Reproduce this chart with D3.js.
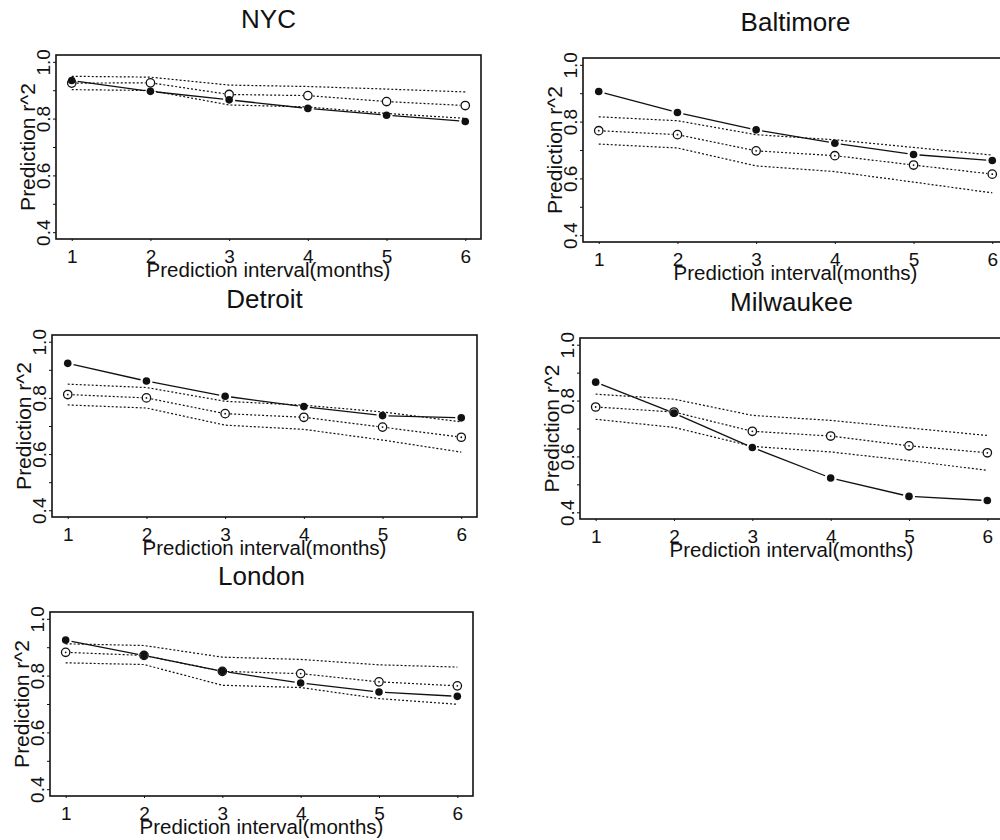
<!DOCTYPE html>
<html>
<head>
<meta charset="utf-8">
<script src="https://cdn.jsdelivr.net/npm/d3@7"></script>
<style>
  html, body { margin: 0; padding: 0; background: #fff; }
  svg { display: block; font-family: "Liberation Sans", Arial, Helvetica, sans-serif; }
</style>
</head>
<body>
<svg id="chart" width="1000" height="840"></svg>
<script>
// ---- data ----
const months = [1, 2, 3, 4, 5, 6];
const yTicks = [0.4, 0.5, 0.6, 0.7, 0.8, 0.9, 1.0];
const yTickLabels = [0.4, 0.6, 0.8, 1.0];
const cities = ["NYC", "Baltimore", "Detroit", "Milwaukee", "London"];

// filled points (solid line)
const observedNYC       = [0.934, 0.896, 0.866, 0.836, 0.812, 0.790];
const observedBaltimore = [0.906, 0.832, 0.771, 0.724, 0.684, 0.663];
const observedDetroit   = [0.923, 0.860, 0.806, 0.769, 0.737, 0.729];
const observedMilwaukee = [0.866, 0.755, 0.632, 0.523, 0.457, 0.442];
const observedLondon    = [0.925, 0.871, 0.815, 0.774, 0.742, 0.727];

// open circles (dotted line)
const meanNYC       = [0.925, 0.926, 0.885, 0.881, 0.860, 0.846];
const meanBaltimore = [0.768, 0.754, 0.697, 0.680, 0.647, 0.615];
const meanDetroit   = [0.812, 0.800, 0.744, 0.731, 0.696, 0.660];
const meanMilwaukee = [0.777, 0.759, 0.690, 0.673, 0.638, 0.613];
const meanLondon    = [0.882, 0.871, 0.815, 0.807, 0.778, 0.764];

// upper dotted band
const upperNYC       = [0.949, 0.946, 0.918, 0.913, 0.904, 0.894];
const upperBaltimore = [0.817, 0.803, 0.754, 0.736, 0.709, 0.682];
const upperDetroit   = [0.849, 0.837, 0.788, 0.774, 0.750, 0.715];
const upperMilwaukee = [0.823, 0.805, 0.747, 0.729, 0.702, 0.675];
const upperLondon    = [0.912, 0.906, 0.865, 0.857, 0.838, 0.830];

// lower dotted band
const lowerNYC       = [0.902, 0.899, 0.848, 0.841, 0.818, 0.801];
const lowerBaltimore = [0.721, 0.707, 0.644, 0.624, 0.587, 0.549];
const lowerDetroit   = [0.775, 0.764, 0.703, 0.688, 0.650, 0.607];
const lowerMilwaukee = [0.733, 0.704, 0.636, 0.616, 0.585, 0.550];
const lowerLondon    = [0.845, 0.839, 0.766, 0.758, 0.719, 0.699];

const xLabel = "Prediction interval(months)";
const yLabel = "Prediction r^2";

// ---- layout (pixel boxes of each plot region) ----
const boxes = [
  {left: 56,  right: 481,  top: 55,  bottom: 239, dot: false},
  {left: 583, right: 1008, top: 58,  bottom: 242, dot: true},
  {left: 52,  right: 477,  top: 335, bottom: 517, dot: true},
  {left: 580, right: 1003, top: 338, bottom: 519, dot: true},
  {left: 50,  right: 473,  top: 612, bottom: 796, dot: true}
];

const seriesSets = [
  [observedNYC, meanNYC, upperNYC, lowerNYC],
  [observedBaltimore, meanBaltimore, upperBaltimore, lowerBaltimore],
  [observedDetroit, meanDetroit, upperDetroit, lowerDetroit],
  [observedMilwaukee, meanMilwaukee, upperMilwaukee, lowerMilwaukee],
  [observedLondon, meanLondon, upperLondon, lowerLondon]
];

const svg = d3.select("#chart");
const ink = "#111";
const ff = "Liberation Sans, Arial, sans-serif";

cities.forEach((city, i) => {
  const b = boxes[i];
  const [obs, mean, up, lo] = seriesSets[i];
  const x = d3.scaleLinear().domain([0.8, 6.2]).range([b.left, b.right]);
  const y = d3.scaleLinear().domain([0.376, 1.024]).range([b.bottom, b.top]);
  const g = svg.append("g");

  // box
  g.append("rect")
    .attr("x", b.left).attr("y", b.top)
    .attr("width", b.right - b.left).attr("height", b.bottom - b.top)
    .attr("fill", "none").attr("stroke", ink).attr("stroke-width", 1.6);

  // y axis
  const yAxis = d3.axisLeft(y).tickValues(yTicks).tickSize(3)
    .tickFormat(d => yTickLabels.some(v => Math.abs(v - d) < 1e-9) ? d3.format(".1f")(d) : "");
  const ya = g.append("g").attr("transform", `translate(${b.left},0)`).call(yAxis);
  ya.select(".domain").remove();
  ya.selectAll("line").attr("stroke", ink);
  ya.selectAll("text")
    .attr("x", 0).attr("y", 0).attr("dy", null)
    .attr("transform", "translate(-6,0) rotate(-90)")
    .attr("text-anchor", "middle")
    .attr("font-size", 19).attr("fill", ink)
    .attr("font-family", ff);

  // x axis
  const xAxis = d3.axisBottom(x).tickValues(months).tickSize(2).tickFormat(d3.format("d"));
  const xa = g.append("g").attr("transform", `translate(0,${b.bottom})`).call(xAxis);
  xa.select(".domain").remove();
  xa.selectAll("line").attr("stroke", ink);
  xa.selectAll("text")
    .attr("y", 24).attr("dy", null)
    .attr("font-size", 19).attr("fill", ink)
    .attr("font-family", ff);

  // title
  g.append("text")
    .attr("x", (b.left + b.right) / 2).attr("y", b.top - 27)
    .attr("text-anchor", "middle").attr("font-size", 26).attr("fill", ink)
    .text(city);

  // x label
  g.append("text")
    .attr("x", (b.left + b.right) / 2).attr("y", b.bottom + 38)
    .attr("text-anchor", "middle").attr("font-size", 20.5).attr("fill", ink)
    .text(xLabel);

  // y label
  g.append("text")
    .attr("transform", `translate(${b.left - 21},${(b.top + b.bottom) / 2}) rotate(-90)`)
    .attr("text-anchor", "middle").attr("font-size", 21).attr("fill", ink)
    .text(yLabel);

  const line = d3.line().x((d, k) => x(months[k])).y(d => y(d));

  // dotted bands
  [up, lo].forEach(s => {
    g.append("path").attr("d", line(s))
      .attr("fill", "none").attr("stroke", ink).attr("stroke-width", 1.2)
      .attr("stroke-dasharray", "2,2");
  });

  const gapSegs = (s, gap) => {
    const segs = [];
    for (let k = 0; k < s.length - 1; k++) {
      const x1 = x(months[k]), y1 = y(s[k]), x2 = x(months[k + 1]), y2 = y(s[k + 1]);
      const L = Math.hypot(x2 - x1, y2 - y1);
      const ux = (x2 - x1) / L, uy = (y2 - y1) / L;
      segs.push([x1 + ux * gap, y1 + uy * gap, x2 - ux * gap, y2 - uy * gap]);
    }
    return segs;
  };

  // mean dotted line with gaps around circles
  gapSegs(mean, 5).forEach(sg => {
    g.append("line").attr("x1", sg[0]).attr("y1", sg[1]).attr("x2", sg[2]).attr("y2", sg[3])
      .attr("stroke", ink).attr("stroke-width", 1.2).attr("stroke-dasharray", "2,2");
  });

  // solid line with gaps
  gapSegs(obs, 6).forEach(sg => {
    g.append("line").attr("x1", sg[0]).attr("y1", sg[1]).attr("x2", sg[2]).attr("y2", sg[3])
      .attr("stroke", ink).attr("stroke-width", 1.3);
  });

  // open circles
  g.selectAll(null).data(mean).enter().append("circle")
    .attr("cx", (d, k) => x(months[k])).attr("cy", d => y(d)).attr("r", 4.2)
    .attr("fill", "#fff").attr("stroke", ink).attr("stroke-width", 1.3);
  if (b.dot) {
    g.selectAll(null).data(mean).enter().append("circle")
      .attr("cx", (d, k) => x(months[k])).attr("cy", d => y(d)).attr("r", 0.9)
      .attr("fill", ink);
  }

  // filled points
  g.selectAll(null).data(obs).enter().append("circle")
    .attr("cx", (d, k) => x(months[k])).attr("cy", d => y(d)).attr("r", 3.8)
    .attr("fill", ink);
});
</script>
</body>
</html>
